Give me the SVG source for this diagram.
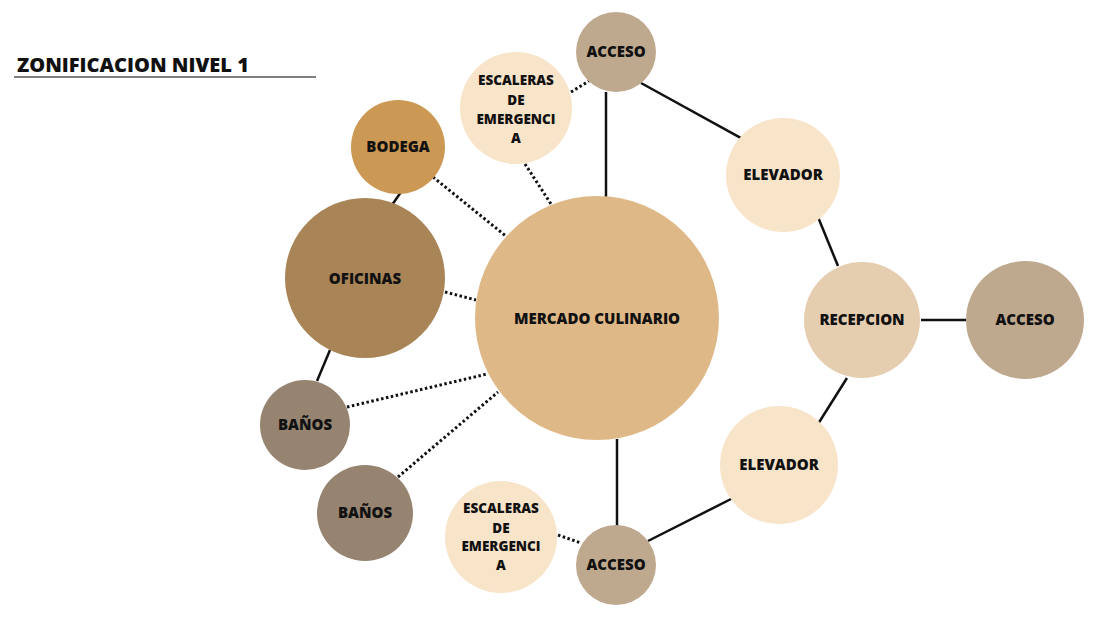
<svg xmlns="http://www.w3.org/2000/svg" width="1100" height="618" viewBox="0 0 1100 618">
<style>
.t{font-family:"Open Sans","Liberation Sans",sans-serif;font-weight:800;fill:#111;text-anchor:middle}
.s{font-size:15px}
.m{font-size:15px}
.e{font-size:13.5px}
.solid{stroke:#111;stroke-width:2.5;fill:none}
.dot{stroke:#111;stroke-width:3;stroke-dasharray:2.5 2.5;fill:none}
</style>
<rect width="1100" height="618" fill="#fff"/>
<g id="title">
<text x="17" y="72" font-family="'Open Sans','Liberation Sans',sans-serif" font-weight="800" font-size="20" fill="#111">ZONIFICACION NIVEL 1</text>
<line x1="14" y1="77" x2="316" y2="77" stroke="#555" stroke-width="1.3"/>
</g>
<g id="connectors">
<line class="solid" x1="606" y1="92" x2="606" y2="197"/>
<line class="solid" x1="641" y1="83" x2="768" y2="153"/>
<line class="solid" x1="818" y1="217" x2="838" y2="266"/>
<line class="solid" x1="921" y1="320" x2="966" y2="320"/>
<line class="solid" x1="847" y1="378" x2="818" y2="424"/>
<line class="solid" x1="733" y1="498" x2="648" y2="541"/>
<line class="solid" x1="617" y1="439" x2="617" y2="526"/>
<line class="solid" x1="401" y1="192" x2="392" y2="205"/>
<line class="solid" x1="330" y1="350" x2="317" y2="381"/>
<line class="dot" x1="433" y1="177" x2="507" y2="237"/>
<line class="dot" x1="525" y1="164" x2="551" y2="204"/>
<line class="dot" x1="571" y1="92" x2="589" y2="81"/>
<line class="dot" x1="445" y1="292" x2="476" y2="300"/>
<line class="dot" x1="347" y1="407" x2="487" y2="374"/>
<line class="dot" x1="398" y1="477" x2="498" y2="392"/>
<line class="dot" x1="558" y1="535" x2="581" y2="543"/>
</g>
<g id="mercado">
<circle cx="597" cy="318" r="122" fill="#DFB887"/>
<text class="t m" x="597" y="324">MERCADO CULINARIO</text>
</g>
<g id="acceso-top">
<circle cx="616" cy="52" r="40" fill="#BFA98E"/>
<text class="t s" x="616" y="57">ACCESO</text>
</g>
<g id="escaleras-top">
<circle cx="516" cy="108" r="56" fill="#F8E4C9"/>
<text class="t e" x="516" y="85">ESCALERAS</text>
<text class="t e" x="516" y="105">DE</text>
<text class="t e" x="516" y="124">EMERGENCI</text>
<text class="t e" x="516" y="143">A</text>
</g>
<g id="bodega">
<circle cx="398" cy="147" r="47" fill="#CC9954"/>
<text class="t s" x="398" y="152">BODEGA</text>
</g>
<g id="oficinas">
<circle cx="365" cy="278" r="80" fill="#A88456"/>
<text class="t s" x="365" y="284">OFICINAS</text>
</g>
<g id="banos-1">
<circle cx="305" cy="425" r="45" fill="#968471"/>
<text class="t s" x="305" y="430">BAÑOS</text>
</g>
<g id="banos-2">
<circle cx="365" cy="513" r="48" fill="#968471"/>
<text class="t s" x="365" y="518">BAÑOS</text>
</g>
<g id="escaleras-bottom">
<circle cx="501" cy="537" r="56" fill="#F8E4C9"/>
<text class="t e" x="501" y="513">ESCALERAS</text>
<text class="t e" x="501" y="533">DE</text>
<text class="t e" x="501" y="551">EMERGENCI</text>
<text class="t e" x="501" y="570">A</text>
</g>
<g id="acceso-bottom">
<circle cx="616" cy="565" r="40" fill="#BFA98E"/>
<text class="t s" x="616" y="570">ACCESO</text>
</g>
<g id="elevador-top">
<circle cx="783" cy="175" r="57" fill="#F8E4C9"/>
<text class="t s" x="783" y="180">ELEVADOR</text>
</g>
<g id="recepcion">
<circle cx="862" cy="320" r="58" fill="#E5CDB0"/>
<text class="t s" x="862" y="325">RECEPCION</text>
</g>
<g id="acceso-right">
<circle cx="1025" cy="320" r="59" fill="#BFA98E"/>
<text class="t s" x="1025" y="325">ACCESO</text>
</g>
<g id="elevador-bottom">
<circle cx="779" cy="465" r="59" fill="#F8E4C9"/>
<text class="t s" x="779" y="470">ELEVADOR</text>
</g>
</svg>
